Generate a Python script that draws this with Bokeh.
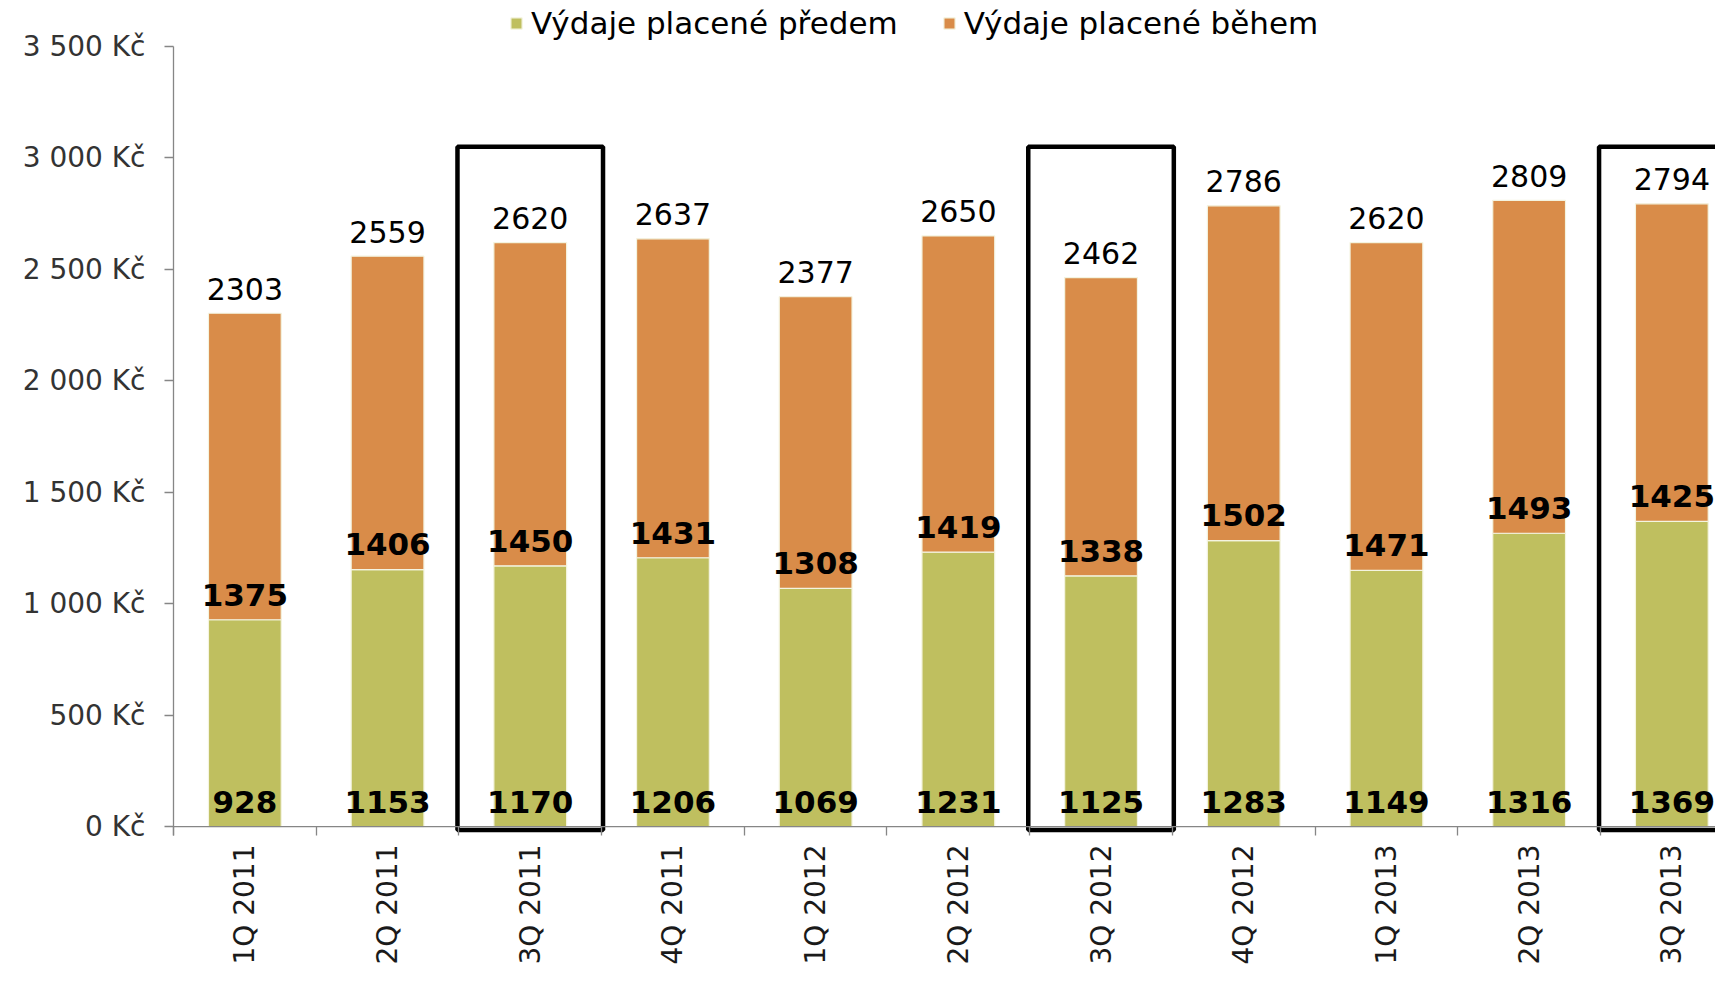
import math
from bokeh.plotting import figure
from bokeh.models import (ColumnDataSource, Range1d, FixedTicker, Span, Legend,
                          LegendItem)
from bokeh.core.properties import value
from bokeh.embed import file_html
from bokeh.resources import INLINE

# ---------------- data ----------------
categories = ["1Q 2011", "2Q 2011", "3Q 2011", "4Q 2011", "1Q 2012", "2Q 2012",
              "3Q 2012", "4Q 2012", "1Q 2013", "2Q 2013", "3Q 2013"]
paid_before = [928, 1153, 1170, 1206, 1069, 1231, 1125, 1283, 1149, 1316, 1369]
paid_during = [1375, 1406, 1450, 1431, 1308, 1419, 1338, 1502, 1471, 1493, 1425]
total_labels = [2303, 2559, 2620, 2637, 2377, 2650, 2462, 2786, 2620, 2809, 2794]
highlighted = ["3Q 2011", "3Q 2012", "3Q 2013"]
y_ticks = [0, 500, 1000, 1500, 2000, 2500, 3000, 3500]
y_tick_labels = ["0 Kč", "500 Kč", "1 000 Kč", "1 500 Kč", "2 000 Kč",
                 "2 500 Kč", "3 000 Kč", "3 500 Kč"]
series_names = ["Výdaje placené předem", "Výdaje placené během"]

# ---------------- styles ----------------
GREEN = "#BFBF5F"
ORANGE = "#D98C49"
AXIS = "#868686"
FONT = "DejaVu Sans"
W, H = 1715, 967
LEFT, BOTTOM = 173, 130
FRAME_H = H - BOTTOM

n = len(categories)
centers = [i + 0.5 for i in range(n)]
tops = [a + b for a, b in zip(paid_before, paid_during)]

src = ColumnDataSource(dict(
    x=centers, cat=categories, before=paid_before, during=paid_during,
    top=tops, zero=[0] * n,
    lab_before=[str(v) for v in paid_before],
    lab_during=[str(v) for v in paid_during],
    lab_total=[str(v) for v in total_labels],
    y_before=[110] * n,
    y_during=[v + 113 for v in paid_before],
    y_total=[t + 110 for t in tops],
))

p = figure(width=W, height=H, output_backend="svg", toolbar_location=None,
           x_range=Range1d(0, 10.806), y_range=Range1d(-40, 3706),
           min_border_left=LEFT, min_border_right=0, min_border_top=0,
           min_border_bottom=BOTTOM)
p.outline_line_color = None
p.xgrid.visible = False
p.ygrid.visible = False
p.background_fill_color = "white"
p.border_fill_color = "white"

# bars
r1 = p.vbar(x="x", bottom="zero", top="before", width=0.51, source=src,
            fill_color=GREEN, line_color="#F4F4E0", line_width=1.2)
r2 = p.vbar(x="x", bottom="before", top="top", width=0.51, source=src,
            fill_color=ORANGE, line_color="#F4F4E0", line_width=1.2)

# zero line (category axis line)
p.add_layout(Span(location=0, dimension="width", line_color=AXIS, line_width=1.3))

# highlight boxes
hx = [categories.index(c) for c in highlighted]
p.quad(left=[i - 0.01 for i in hx], right=[i + 1.01 for i in hx],
       bottom=[-15] * len(hx), top=[3050] * len(hx),
       fill_color=None, line_color="black", line_width=4.5)

# value labels
p.text(x="x", y="y_before", text="lab_before", source=src,
       text_align="center", text_baseline="middle",
       text_font=value(FONT), text_font_size="31px", text_font_style="bold",
       text_color="black")
p.text(x="x", y="y_during", text="lab_during", source=src,
       text_align="center", text_baseline="middle",
       text_font=value(FONT), text_font_size="31px", text_font_style="bold",
       text_color="black")
p.text(x="x", y="y_total", text="lab_total", source=src,
       text_align="center", text_baseline="middle",
       text_font=value(FONT), text_font_size="30px", text_color="black")

# y axis
ya = p.yaxis[0]
ya.ticker = FixedTicker(ticks=y_ticks)
ya.major_label_overrides = {t: l for t, l in zip(y_ticks, y_tick_labels)}
ya.bounds = (-40, 3500)
ya.axis_line_color = AXIS
ya.axis_line_width = 1.3
ya.major_tick_line_color = AXIS
ya.major_tick_line_width = 1.3
ya.major_tick_out = 9
ya.major_tick_in = 0
ya.minor_tick_line_color = None
ya.major_label_standoff = 19
ya.major_label_text_font = FONT
ya.major_label_text_font_size = "28px"
ya.major_label_text_color = "#333333"

# x axis: labels at centres, small ticks at category boundaries
xa = p.xaxis[0]
xa.ticker = FixedTicker(ticks=centers, minor_ticks=list(range(n + 1)))
xa.major_label_overrides = {c: l for c, l in zip(centers, categories)}
xa.axis_line_color = None
xa.major_tick_line_color = None
xa.major_tick_in = 0
xa.major_tick_out = 0
xa.minor_tick_line_color = AXIS
xa.minor_tick_line_width = 1.3
xa.minor_tick_in = 9
xa.minor_tick_out = 0
xa.major_label_orientation = math.pi / 2
xa.major_label_standoff = 9
xa.major_label_text_font = FONT
xa.major_label_text_font_size = "28px"
xa.major_label_text_color = "#1a1a1a"

# legend
legend = Legend(items=[LegendItem(label=series_names[0], renderers=[r1]),
                       LegendItem(label=series_names[1], renderers=[r2])],
                orientation="horizontal", location=(336, FRAME_H - 25 - 18),
                glyph_width=14, glyph_height=14, label_standoff=8, spacing=44,
                padding=0, margin=0, border_line_color=None,
                background_fill_alpha=0,
                label_text_font=FONT, label_text_font_size="31px",
                label_text_color="black", label_height=36)
p.add_layout(legend)

open("out.html", "w").write(file_html(p, INLINE))
